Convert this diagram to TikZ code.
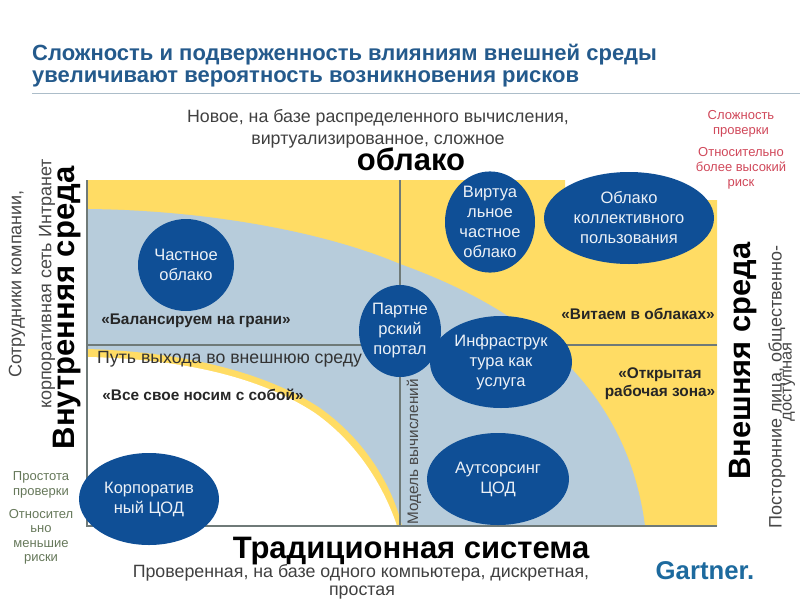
\documentclass[tikz,border=0pt]{standalone}
\usepackage{fontspec}
\setmainfont{Liberation Sans}
\definecolor{ybg}{HTML}{FFDC64}
\definecolor{bbg}{HTML}{B7CCDB}
\definecolor{oval}{HTML}{0F4F96}
\definecolor{axis}{HTML}{6F7A78}
\definecolor{ttl}{HTML}{245A8C}
\definecolor{redt}{HTML}{D0485A}
\definecolor{grnt}{HTML}{66785A}
\definecolor{gart}{HTML}{1D6A9E}
\newcommand{\fs}[1]{\fontsize{#1}{#1}\selectfont}
\tikzset{
  x=1pt,y=-1pt,
  oval/.style={ellipse,fill=oval,text=white!92!oval,inner sep=0pt,align=center,font=\fs{16.5}},
  quote/.style={inner sep=0pt,align=center,font=\fs{15.4}\bfseries,text=black!85},
  big/.style={inner sep=0pt,font=\fs{31}\bfseries,text=black},
  side/.style={inner sep=0pt,rotate=90,font=\fs{18},text=black!72},
  sub/.style={inner sep=0pt,align=center,font=\fs{17.8},text=black!75},
  note/.style={inner sep=0pt,align=center,font=\fs{13}},
  rule/.style={draw=axis,line width=1.2pt}
}
\usetikzlibrary{shapes.geometric}
\begin{document}
\begin{tikzpicture}
\useasboundingbox (0,0) rectangle (800,600);
% background fields
\fill[ybg] (87,180) -- (565,180) -- (565,200) -- (717,200) -- (717,526) -- (87,526) -- cycle;
\fill[bbg] (87,209) .. controls (200,210) and (320,230) .. (400,264)
  .. controls (500,300) and (625,370) .. (645,526) -- (87,526) -- cycle;
\fill[ybg] (87,349) .. controls (190,352) and (270,375) .. (320,408)
  .. controls (365,440) and (392,485) .. (402,526) -- (87,526) -- cycle;
\fill[white] (87,357) .. controls (190,359) and (265,380) .. (315,413)
  .. controls (360,445) and (385,490) .. (397,526) -- (87,526) -- cycle;
% axes
\coordinate (lt) at (87,180); \coordinate (lb) at (87,526);
\coordinate (rb) at (717,526); \coordinate (ct) at (400,180);
\coordinate (cb) at (400,526); \coordinate (ml) at (87,345); \coordinate (mr) at (717,345);
\draw[rule] (lt) -- (lb) -- (rb);
\draw[rule] (ct) -- (cb);
\draw[rule] (ml) -- (mr);
\coordinate (tl) at (32,93); \coordinate (tr) at (800,93);
\draw[draw=bbg!80!gray,line width=1pt] (tl) -- (tr);
% title
\node[anchor=west,inner sep=0pt,font=\fs{22}\bfseries,text=ttl] (t1) at (32,55) {Сложность и подверженность влияниям внешней среды};
\node[anchor=west,inner sep=0pt,font=\fs{22}\bfseries,text=ttl] (t2) at (32,79) {увеличивают вероятность возникновения рисков};
% top and bottom labels
\node[sub] (n1) at (378,118) {Новое, на базе распределенного вычисления,};
\node[sub] (n2) at (378,142) {виртуализированное, сложное};
\node[big] (cl) at (411,159) {облако};
\node[big] (tr2) at (411,551) {Традиционная система};
\node[sub] (b1) at (361,573) {Проверенная, на базе одного компьютера, дискретная,};
\node[sub] (b2) at (362,593) {простая};
% side labels
\node[side] (s1) at (17,284) {Сотрудники компании,};
\node[side] (s2) at (47,284) {корпоративная сеть Интранет};
\node[side,font=\fs{31}\bfseries,text=black] (s3) at (67,308) {Внутренняя среда};
\node[side,font=\fs{30.8}\bfseries,text=black] (s4) at (743,361) {Внешняя среда};
\node[side] (s5) at (777,387) {Посторонние лица, общественно-};
\node[side,font=\fs{16.5}] (s6) at (789,382) {доступная};
\node[side,font=\fs{15.3}] (s7) at (414,452) {Модель вычислений};
\node[anchor=west,inner sep=0pt,font=\fs{17.7},text=black!80] (p) at (97,359) {Путь выхода во внешнюю среду};
% quotes
\node[quote] (q1) at (196,321) {«Балансируем на грани»};
\node[quote] (q2) at (203,395) {«Все свое носим с собой»};
\node[quote] (q3) at (638,314) {«Витаем в облаках»};
\node[quote] (q4) at (660,384) {«Открытая\\[3pt]рабочая зона»};
% notes
\node[note,text=redt] (r) at (741,124) {Сложность\\[2pt]проверки};
\node[note,text=redt] (r2) at (741,168) {Относительно\\[2pt]более высокий\\[2pt]риск};
\node[note,text=grnt] (g) at (41,485) {Простота\\[2pt]проверки};
\node[note,text=grnt] (g2) at (41,537) {Относител\\[1.5pt]ьно\\[1.5pt]меньшие\\[1.5pt]риски};
% ovals
\node[oval,minimum width=96pt,minimum height=92pt] (o1) at (186,265) {Частное\\[4pt]облако};
\node[oval,minimum width=90pt,minimum height=92pt] (o2) at (490,222) {Виртуа\\[3.5pt]льное\\[3.5pt]частное\\[3.5pt]облако};
\node[oval,minimum width=170pt,minimum height=92pt] (o3) at (629,218) {Облако\\[3.5pt]коллективного\\[3.5pt]пользования};
\node[oval,minimum width=82pt,minimum height=92pt] (o4) at (400,331) {Партне\\[3.5pt]рский\\[3.5pt]портал};
\node[oval,minimum width=142pt,minimum height=92pt] (o5) at (501,362) {Инфраструк\\[3.5pt]тура как\\[3.5pt]услуга};
\node[oval,minimum width=142pt,minimum height=92pt] (o6) at (498,479) {Аутсорсинг\\[3.5pt]ЦОД};
\node[oval,minimum width=140pt,minimum height=92pt] (o7) at (149,499) {Корпоратив\\[3.5pt]ный ЦОД};
% logo
\node[inner sep=0pt,font=\fs{25.7}\bfseries,text=gart] (logo) at (705,571) {Gartner.};
\end{tikzpicture}
\end{document}
